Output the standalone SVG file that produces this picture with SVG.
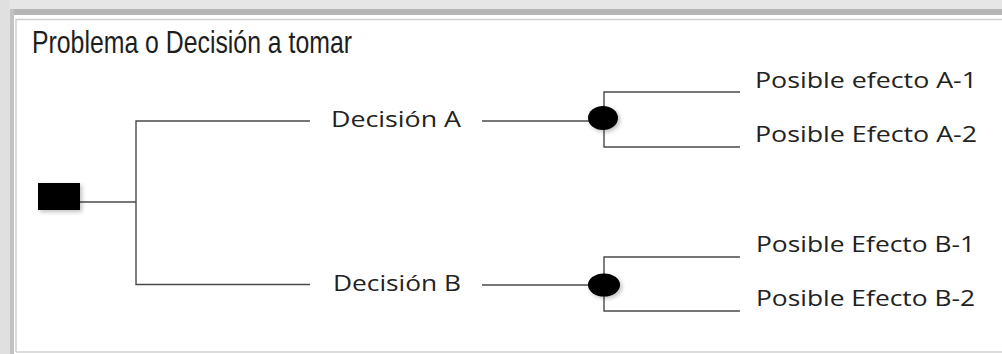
<svg xmlns="http://www.w3.org/2000/svg" width="1002" height="354" viewBox="0 0 1002 354">
  <style>
    .wire { fill: none; stroke: #4a4a4a; stroke-width: 1.4; }
    .lbl { font-family: "Open Sans", "Liberation Sans", sans-serif; font-size: 21.5px; fill: #222; }
    .title { font-family: "Liberation Sans", Arial, sans-serif; font-size: 32px; fill: #1e1e1e; }
    .node { fill: #000; filter: url(#soft); }
  </style>
  <defs>
    <filter id="soft" x="-30%" y="-30%" width="160%" height="160%">
      <feGaussianBlur in="SourceAlpha" stdDeviation="2"/>
      <feOffset dx="2" dy="2" result="b"/>
      <feComponentTransfer><feFuncA type="linear" slope="0.25"/></feComponentTransfer>
      <feMerge><feMergeNode/><feMergeNode in="SourceGraphic"/></feMerge>
    </filter>
  </defs>

  <!-- frame -->
  <rect x="0" y="0" width="1002" height="354" fill="#ffffff"/>
  <rect x="0" y="0" width="1002" height="9" fill="#e6e6e6"/>
  <rect x="0" y="0" width="10" height="354" fill="#e0e0e0"/>
  <rect x="10" y="9" width="992" height="6" fill="#b6b6b6"/>
  <rect x="10" y="9" width="4" height="345" fill="#c2c2c2"/>
  <path d="M16 352 V19.5 H1002" fill="none" stroke="#d0d0d0" stroke-width="1.5"/>
  <line x1="16" y1="352" x2="1002" y2="352" stroke="#d0d0d0" stroke-width="1.5"/>

  <text class="title" x="32" y="53" textLength="320" lengthAdjust="spacingAndGlyphs">Problema o Decisión a tomar</text>

  <!-- connectors -->
  <g id="connectors">
    <path class="wire" d="M80 202 H136"/>
    <path class="wire" d="M310 121 H136 V284.5 H310"/>
    <path class="wire" d="M482 121 H590"/>
    <path class="wire" d="M740 92 H604 V147 H740"/>
    <path class="wire" d="M482 285 H590"/>
    <path class="wire" d="M740 257 H604 V311 H740"/>
  </g>

  <g id="root">
    <rect class="node" x="38" y="183" width="42" height="27"/>
  </g>

  <g id="decision-a">
    <text class="lbl" x="331" y="127" textLength="130" lengthAdjust="spacingAndGlyphs">Decisión A</text>
  </g>
  <g id="decision-b">
    <text class="lbl" x="333" y="291" textLength="128" lengthAdjust="spacingAndGlyphs">Decisión B</text>
  </g>

  <g id="chance-a">
    <ellipse class="node" cx="603" cy="118" rx="15" ry="12"/>
  </g>
  <g id="chance-b">
    <ellipse class="node" cx="604" cy="285" rx="16" ry="11.5"/>
  </g>

  <g id="effect-a1">
    <text class="lbl" x="755" y="88" textLength="222" lengthAdjust="spacingAndGlyphs">Posible efecto A-1</text>
  </g>
  <g id="effect-a2">
    <text class="lbl" x="755" y="142" textLength="222" lengthAdjust="spacingAndGlyphs">Posible Efecto A-2</text>
  </g>
  <g id="effect-b1">
    <text class="lbl" x="756" y="252" textLength="219" lengthAdjust="spacingAndGlyphs">Posible Efecto B-1</text>
  </g>
  <g id="effect-b2">
    <text class="lbl" x="756" y="306" textLength="219" lengthAdjust="spacingAndGlyphs">Posible Efecto B-2</text>
  </g>
</svg>
